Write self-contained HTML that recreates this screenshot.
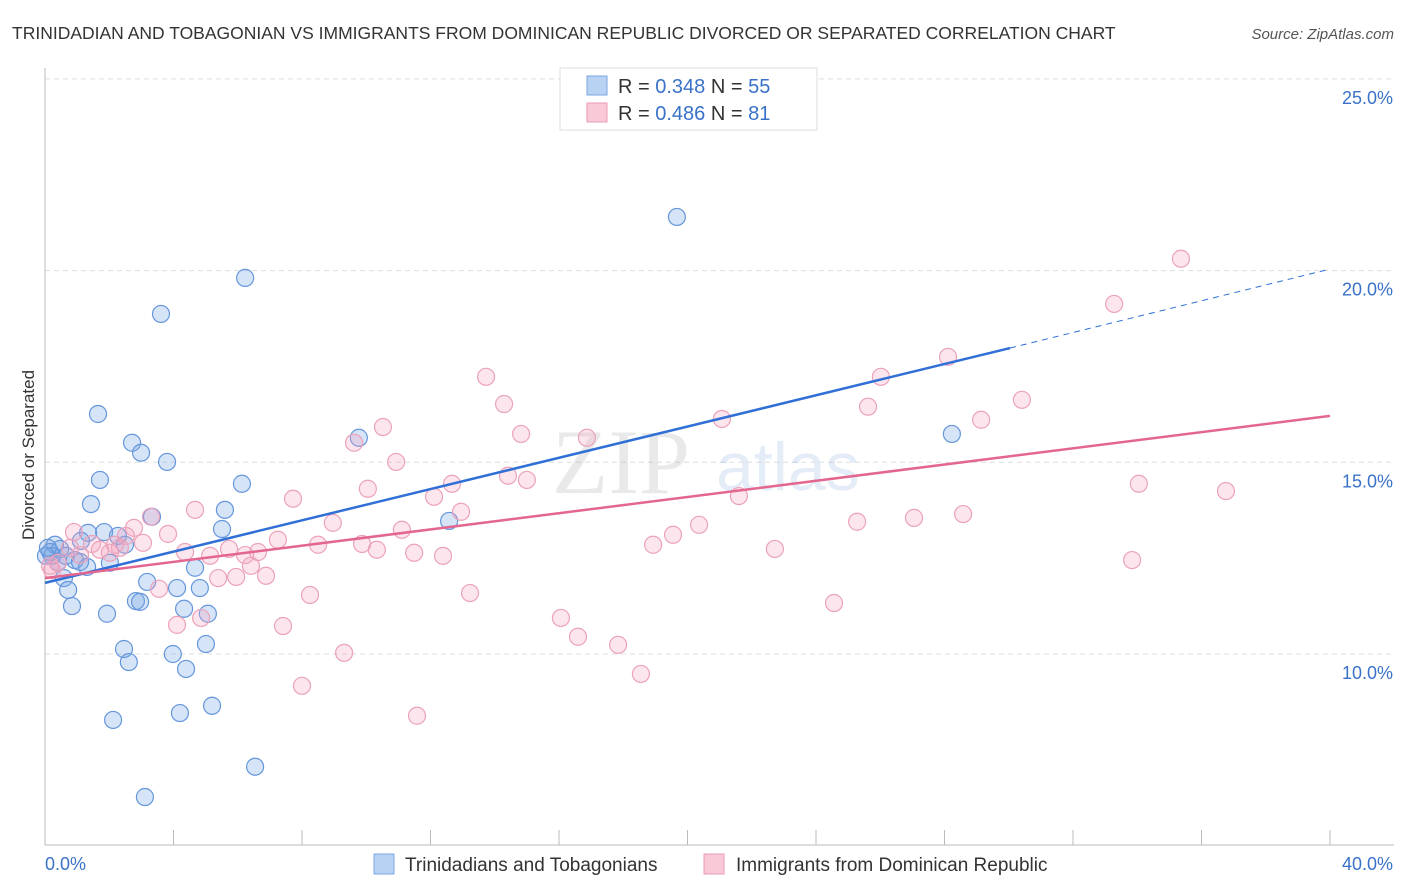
<!DOCTYPE html>
<html><head><meta charset="utf-8"><style>
body{margin:0;background:#fff;font-family:"Liberation Sans",sans-serif;}
svg{display:block}
</style></head><body>
<svg id="chart" width="1406" height="892" xmlns="http://www.w3.org/2000/svg">
<text x="12" y="39" font-size="17.5" fill="#333">TRINIDADIAN AND TOBAGONIAN VS IMMIGRANTS FROM DOMINICAN REPUBLIC DIVORCED OR SEPARATED CORRELATION CHART</text>
<text x="1394" y="39" font-size="15" fill="#555" font-style="italic" text-anchor="end">Source: ZipAtlas.com</text>
<g id="grid"></g>
<g id="axes"></g>
<g opacity="0.18">
<text x="552" y="493" font-size="92" font-family="Liberation Serif,serif" fill="#888">ZIP</text>
<text x="716" y="490" font-size="68" fill="#6a9ad8">atlas</text>
</g>
<g id="pts"></g>
<g id="trends"></g>
<g>
<rect x="560" y="68" width="257" height="62" fill="#fff" stroke="#ddd"/>
<rect x="587" y="76" width="20" height="19" fill="#b8d2f4" stroke="#7aa6e0"/>
<rect x="587" y="103" width="20" height="19" fill="#f9c9d8" stroke="#eb9ab5"/>
<text x="618" y="93" font-size="20" fill="#333">R = <tspan fill="#3a72c8">0.348</tspan>   N = <tspan fill="#3a72c8">55</tspan></text>
<text x="618" y="120" font-size="20" fill="#333">R = <tspan fill="#3a72c8">0.486</tspan>   N = <tspan fill="#3a72c8"> 81</tspan></text>
</g>
<text x="34" y="455" font-size="17" fill="#333" text-anchor="middle" transform="rotate(-90 34 455)">Divorced or Separated</text>
<g>
<rect x="374" y="854" width="20" height="20" fill="#b8d2f4" stroke="#7aa6e0"/>
<text x="405" y="871" font-size="19" fill="#333">Trinidadians and Tobagonians</text>
<rect x="704" y="854" width="20" height="20" fill="#f9c9d8" stroke="#eb9ab5"/>
<text x="736" y="871" font-size="19" fill="#333">Immigrants from Dominican Republic</text>
</g>
</svg>
<script>
const yTicks=[10,15,20,25];
const yTickLabels=["10.0%","15.0%","20.0%","25.0%"];
const xTickLabels=["0.0%","40.0%"];
const blueX=[19.67,6.23,3.61,1.65,2.71,2.99,3.80,1.71,6.13,9.77,28.23,1.43,3.33,5.60,12.58,5.51,1.34,1.84,2.27,2.49,1.12,0.31,0.47,0.16,0.65,0.93,0.22,2.02,1.31,4.67,0.59,0.72,3.18,4.11,4.82,0.84,1.93,2.83,2.96,4.33,5.07,2.46,2.61,3.98,5.01,4.39,2.12,4.20,5.20,6.54,3.11,0.03,1.09,0.09,0.40];
const blueY=[21.40,19.81,18.87,16.26,15.51,15.25,15.01,14.54,14.44,15.64,15.74,13.91,13.58,13.76,13.47,13.26,13.16,13.18,13.08,12.85,12.95,12.85,12.74,12.66,12.56,12.45,12.56,12.38,12.27,12.25,11.98,11.67,11.88,11.72,11.72,11.25,11.05,11.38,11.36,11.18,11.05,10.13,9.79,10.00,10.26,9.61,8.28,8.46,8.65,7.06,6.27,12.56,12.40,12.77,12.40];
const pinkX=[35.36,33.28,28.11,26.02,13.73,30.41,25.62,14.29,29.14,21.07,10.52,14.82,16.87,9.62,10.93,14.41,15.00,34.05,36.76,10.05,12.67,7.72,21.60,12.11,12.95,4.67,3.30,28.58,27.05,25.28,20.36,8.96,11.11,0.90,2.77,3.83,2.52,19.55,18.93,8.50,9.87,3.05,2.33,2.02,1.46,4.36,5.14,6.23,6.63,5.73,7.25,22.72,10.33,11.49,12.39,33.84,0.40,1.09,0.22,6.41,6.88,5.95,5.39,3.55,8.25,13.23,24.56,16.06,4.86,4.11,7.41,16.59,17.84,9.31,18.55,8.00,11.58,1.71,0.78,0.16,2.18];
const pinkY=[20.31,19.13,17.75,17.23,17.23,16.63,16.45,16.52,16.11,16.13,15.92,15.74,15.64,15.51,15.01,14.65,14.54,14.44,14.25,14.31,14.44,14.05,14.12,14.10,13.71,13.76,13.58,13.65,13.55,13.45,13.37,13.42,13.24,13.18,13.29,13.13,13.08,13.11,12.85,12.85,12.87,12.90,12.77,12.64,12.87,12.66,12.56,12.58,12.66,12.74,12.98,12.74,12.72,12.64,12.56,12.45,12.38,12.58,12.19,12.30,12.04,12.01,11.98,11.70,11.54,11.59,11.33,10.94,10.94,10.76,10.73,10.45,10.24,10.03,9.48,9.17,8.39,12.72,12.77,12.30,12.85];
const blueTrendX=[0,30.04,40];
const blueTrendY=[11.855,17.98,20.04];
const pinkTrendX=[0,40];
const pinkTrendY=[11.98,16.21];

const NS="http://www.w3.org/2000/svg";
const xs=v=>45+v/40*1285;
const ys=v=>654-(v-10)/5*191.7;
function mk(tag,attrs,parent){const e=document.createElementNS(NS,tag);for(const k in attrs)e.setAttribute(k,attrs[k]);parent.appendChild(e);return e;}
const grid=document.getElementById('grid'),axes=document.getElementById('axes');
yTicks.forEach((t,i)=>{
  const l=mk('line',{x1:45,x2:1394,y1:ys(t),y2:ys(t),stroke:'#ddd','stroke-dasharray':'5,4'},grid);
  
  
  const tx=mk('text',{x:1393,y:ys(t)+25,'font-size':18,fill:'#3a72c8','text-anchor':'end'},axes);
  tx.textContent=yTickLabels[i];
  
  
});
const ya=mk('line',{x1:45,x2:45,y1:68,y2:845,stroke:'#bbb'},axes);


const xa=mk('line',{x1:45,x2:1394,y1:845,y2:845,stroke:'#bbb'},axes);


for(let i=0;i<=10;i++){
  const t=mk('line',{x1:xs(i*4),x2:xs(i*4),y1:830,y2:845,stroke:'#bbb'},axes);
  
  
}
const xl0=mk('text',{x:45,y:870,'font-size':18,fill:'#3a72c8'},axes);
xl0.textContent=xTickLabels[0];


const xl1=mk('text',{x:1393,y:870,'font-size':18,fill:'#3a72c8','text-anchor':'end'},axes);
xl1.textContent=xTickLabels[1];


const pts=document.getElementById('pts');
blueX.forEach((v,i)=>{
  const c=mk('circle',{cx:xs(v),cy:ys(blueY[i]),r:8.5,fill:'rgba(120,165,230,0.3)',stroke:'#6596dc','stroke-width':1.2},pts);
  
  
});
pinkX.forEach((v,i)=>{
  const c=mk('circle',{cx:xs(v),cy:ys(pinkY[i]),r:8.5,fill:'rgba(245,160,190,0.28)',stroke:'#eba2bb','stroke-width':1.2},pts);
  
  
});
const tr=document.getElementById('trends');
const b1=mk('line',{x1:xs(blueTrendX[0]),y1:ys(blueTrendY[0]),x2:xs(blueTrendX[1]),y2:ys(blueTrendY[1]),stroke:'#2f6fd6','stroke-width':2.5},tr);


const b2=mk('line',{x1:xs(blueTrendX[1]),y1:ys(blueTrendY[1]),x2:xs(blueTrendX[2]),y2:ys(blueTrendY[2]),stroke:'#2f6fd6','stroke-width':1,'stroke-dasharray':'6,5'},tr);


const p1=mk('line',{x1:xs(pinkTrendX[0]),y1:ys(pinkTrendY[0]),x2:xs(pinkTrendX[1]),y2:ys(pinkTrendY[1]),stroke:'#e3668f','stroke-width':2.5},tr);


</script>
</body></html>
